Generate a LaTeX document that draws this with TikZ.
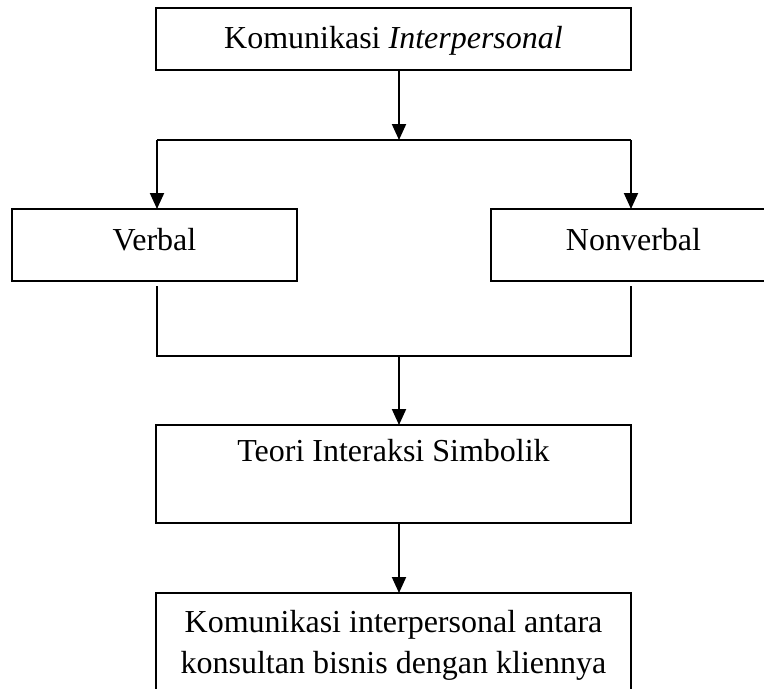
\documentclass[tikz,border=0pt]{standalone}
\usepackage{fontspec}
\setmainfont{Liberation Serif}
\usetikzlibrary{arrows.meta,calc}
\begin{document}
\begin{tikzpicture}[x=0.75pt,y=-0.75pt,
  line width=1.5pt,
  every node/.style={font=\fontsize{24}{30.75}\selectfont, inner sep=0pt, outer sep=0pt},
  box/.style={draw, rectangle, line width=1.5pt},
  wide/.style={box, minimum width=356.25pt},
  half/.style={box, minimum width=213.75pt, minimum height=54pt, text height=7.5pt, text depth=0pt},
  arr/.style={-{Triangle[width=10.5pt,length=12pt]}}]
\clip (0,0) rectangle (764,689);
\fill[white] (0,0) rectangle (764,689);
% boxes
\node[wide, minimum height=46.5pt, text height=13.5pt, text depth=0pt] (top) at (393.5,39) {Komunikasi \textit{Interpersonal}};
\node[half] (verbal) at (154.5,245) {Verbal};
\node[half] (nonverbal) at (633.5,245) {Nonverbal};
\node[wide, minimum height=73.5pt, text height=0pt, text depth=19.5pt] (teori) at (393.5,474) {Teori Interaksi Simbolik};
\node[wide, minimum height=105pt, anchor=north] (bot) at (393.5,593) {};
\node[anchor=base] (botA) at (393.5,632) {Komunikasi interpersonal antara};
\node[anchor=base] (botB) at (393.5,673) {konsultan bisnis dengan kliennya};
% junction points
\coordinate (j1) at (399,140);
\coordinate (jl) at (157,140);
\coordinate (jr) at (631,140);
\coordinate (kl) at (157,356);
\coordinate (kr) at (631,356);
\coordinate (k1) at (399,356);
% connectors
\draw[arr] (top.south -| j1) -- (j1);
\draw (jl) -- (jr);
\draw[arr] (jl) -- (jl |- verbal.north);
\draw[arr] (jr) -- (jr |- nonverbal.north);
\draw ($(kl |- verbal.south)+(0,5)$) -- (kl) -- (kr) -- ($(kr |- nonverbal.south)+(0,5)$);
\draw[arr] (k1) -- (k1 |- teori.north);
\draw[arr] (teori.south -| k1) -- (k1 |- bot.north);
\end{tikzpicture}
\end{document}
